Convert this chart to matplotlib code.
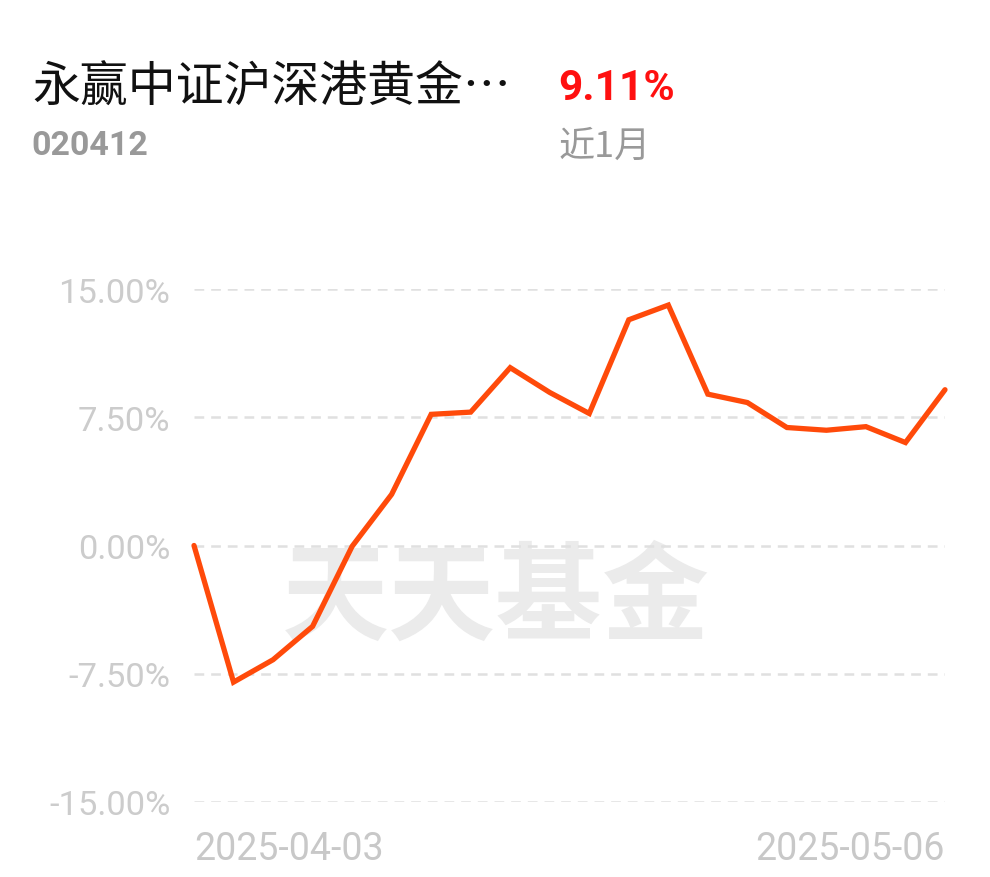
import matplotlib
matplotlib.use("Agg")
import matplotlib.pyplot as plt

plt.rcParams['font.family'] = ['Roboto', 'Noto Sans CJK SC', 'DejaVu Sans']
plt.rcParams['lines.scale_dashes'] = False

fund_name = "永赢中证沪深港黄金…"
fund_code = "020412"
period_return = "9.11%"
period_label = "近1月"
watermark = "天天基金"

returns = [0.0, -7.99, -6.68, -4.73, -0.05, 2.99, 7.67, 7.80, 10.40, 8.95,
           7.72, 13.20, 14.06, 8.85, 8.36, 6.90, 6.74, 6.95, 6.02, 9.11]
y_ticks = [-15, -7.5, 0, 7.5, 15]
y_tick_labels = ["-15.00%", "-7.50%", "0.00%", "7.50%", "15.00%"]
x_tick_labels = ["2025-04-03", "2025-05-06"]

W, H = 990, 878
fig = plt.figure(figsize=(W / 100, H / 100), dpi=100)
fig.patch.set_facecolor('white')

ax = fig.add_axes([194 / W, 75 / H, (945 - 194) / W, (803 - 290) / H])
ax.set_facecolor('none')
x = list(range(len(returns)))
ax.set_xlim(0, len(returns) - 1)
ax.set_ylim(-15, 15)

for yv in y_ticks:
    ax.axhline(yv, color='#e0e0e0', lw=1.8, linestyle=(0, (7, 5)), zorder=1)

# watermark
ax.text(0.402, 0.395, watermark, transform=ax.transAxes, ha='center', va='center',
        fontsize=77, fontweight='bold', color='#ebebeb',
        family=['Noto Sans CJK SC', 'DejaVu Sans'], zorder=0)

ax.plot(x, returns, color='#ff4a0a', lw=3.8, solid_joinstyle='miter',
        solid_capstyle='round', zorder=3, clip_on=False)

for s in ax.spines.values():
    s.set_visible(False)
ax.set_yticks(y_ticks)
ax.set_yticklabels(y_tick_labels)
ax.tick_params(axis='y', length=0, pad=17, labelsize=24.8, labelcolor='#cccccc')
ax.set_xticks([0, len(returns) - 1])
ax.set_xticklabels(x_tick_labels)
ax.tick_params(axis='x', length=0, pad=20, labelsize=27, labelcolor='#c8c8c8')
xl = ax.get_xticklabels()
xl[0].set_ha('left')
xl[1].set_ha('right')

# header texts
fig.text(32 / W, 1 - 88 / H, fund_name, ha='left', va='center', fontsize=34.5,
         color='#111111', family=['Noto Sans CJK SC', 'DejaVu Sans'])
fig.text(558 / W, 1 - 88 / H, period_return, ha='left', va='center', fontsize=30.5,
         color='#ff1010', fontweight='bold')
fig.text(31 / W, 1 - 146 / H, fund_code, ha='left', va='center', fontsize=24.5,
         color='#999999', fontweight='bold')
fig.text(559 / W, 1 - 147 / H, period_label, ha='left', va='center', fontsize=26,
         color='#999999', family=['Noto Sans CJK SC', 'DejaVu Sans'])

fig.savefig('out.png', dpi=100, facecolor='white')
